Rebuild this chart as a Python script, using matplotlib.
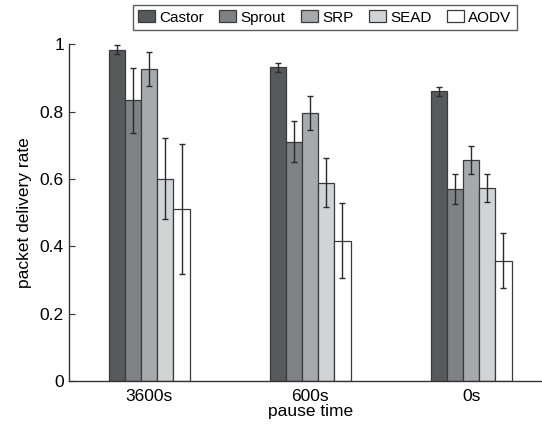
import matplotlib
matplotlib.use('agg')
import matplotlib.pyplot as plt
import numpy as np

plt.rcParams['font.family'] = ['Liberation Sans', 'DejaVu Sans']

groups = ['3600s', '600s', '0s']
protocols = ['Castor', 'Sprout', 'SRP', 'SEAD', 'AODV']
colors = ['#58595b', '#808184', '#a7a9ac', '#d1d3d4', '#ffffff']

# packet delivery rate per protocol, one value per pause time
castor = [0.984, 0.931, 0.860]
sprout = [0.833, 0.711, 0.571]
srp = [0.926, 0.795, 0.657]
sead = [0.601, 0.589, 0.574]
aodv = [0.511, 0.417, 0.357]

castor_err = [0.014, 0.014, 0.014]
sprout_err = [0.097, 0.061, 0.045]
srp_err = [0.050, 0.050, 0.041]
sead_err = [0.120, 0.073, 0.042]
aodv_err = [0.193, 0.110, 0.081]

values = [castor, sprout, srp, sead, aodv]
errors = [castor_err, sprout_err, srp_err, sead_err, aodv_err]

fig = plt.figure(figsize=(5.42, 4.28), dpi=100)
# axes run past the right edge, like the cropped original
ax = fig.add_axes([0.127, 0.1098, 0.891, 0.787])

x = np.arange(1, len(groups) + 1)
w = 0.1
for i, (name, vals, errs, c) in enumerate(zip(protocols, values, errors, colors)):
    pos = x + (i - 2) * w
    ax.bar(pos, vals, w, color=c, edgecolor='#3a3a3a', linewidth=0.9, label=name, zorder=2)
    ax.errorbar(pos, vals, yerr=errs, fmt='none', ecolor='#2a2a2a', elinewidth=1.0,
                capsize=2.5, capthick=1.0, zorder=3)

ax.set_xlim(0.5, 3.5)
ax.set_ylim(0, 1)
ax.set_xticks(x)
ax.set_xticklabels(groups, fontsize=12.5)
ax.set_yticks([0, 0.2, 0.4, 0.6, 0.8, 1])
ax.set_yticklabels(['0', '0.2', '0.4', '0.6', '0.8', '1'], fontsize=12.5)
ax.tick_params(direction='in', length=4, color='#333333')
ax.tick_params(axis='x', length=0, pad=6)
ax.spines['top'].set_visible(False)
ax.spines['right'].set_visible(False)
for s in ['left', 'bottom']:
    ax.spines[s].set_color('#333333')
    ax.spines[s].set_linewidth(1.0)
ax.set_xlabel('pause time', fontsize=12.5, labelpad=0)
ax.set_ylabel('packet delivery rate', fontsize=12.5, labelpad=6)

leg = fig.legend(loc='center', bbox_to_anchor=(0.599, 0.959), ncol=5, fontsize=11,
                 frameon=True, fancybox=False, handlelength=1.1, handleheight=0.8,
                 handletextpad=0.3, columnspacing=1.0, borderpad=0.35)
leg.get_frame().set_edgecolor('#333333')
leg.get_frame().set_linewidth(1.0)

plt.savefig('out.png', dpi=100)
